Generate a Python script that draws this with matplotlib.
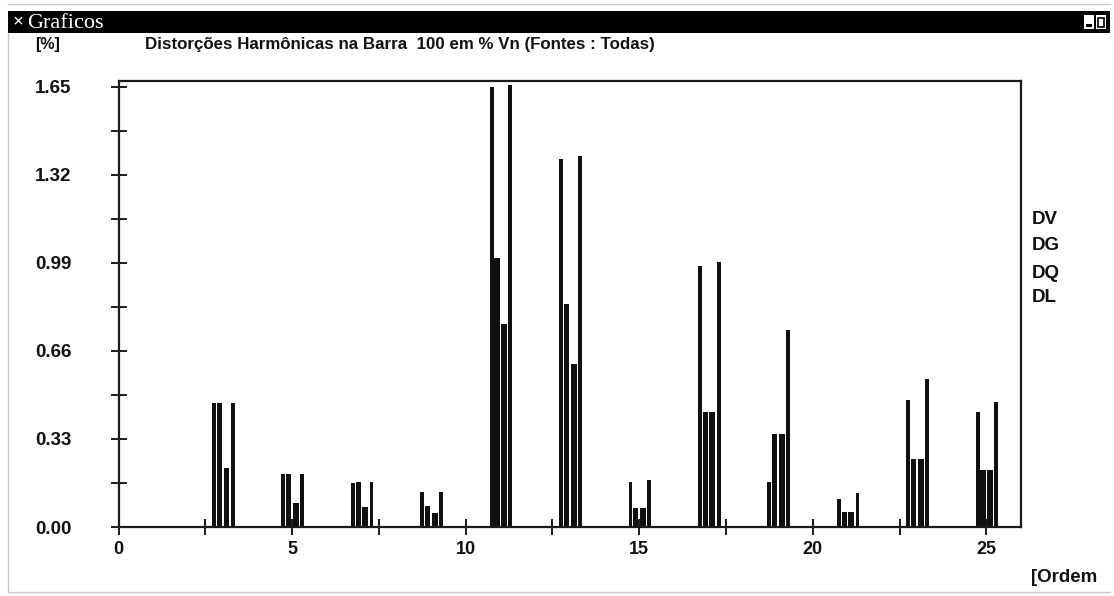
import numpy as np
import matplotlib
matplotlib.use("Agg")
import matplotlib.pyplot as plt
from matplotlib.patches import Rectangle
from matplotlib.lines import Line2D

# ---------------- data ----------------
orders = [3, 5, 7, 9, 11, 13, 15, 17, 19, 21, 23, 25]
series_names = ["DV", "DG", "DQ", "DL"]
DV = [0.465, 0.20, 0.165, 0.13, 1.65, 1.38, 0.17, 0.98, 0.17, 0.105, 0.476, 0.43]
DG = [0.465, 0.20, 0.170, 0.08, 1.01, 0.836, 0.07, 0.43, 0.35, 0.055, 0.255, 0.214]
DQ = [0.220, 0.09, 0.075, 0.053, 0.76, 0.61, 0.07, 0.43, 0.35, 0.055, 0.255, 0.214]
DL = [0.465, 0.20, 0.170, 0.13, 1.657, 1.39, 0.175, 0.995, 0.74, 0.127, 0.555, 0.47]
x_major = [0, 5, 10, 15, 20, 25]
x_minor = [2.5, 7.5, 12.5, 17.5, 22.5]
y_major = [0.00, 0.33, 0.66, 0.99, 1.32, 1.65]
y_minor = [0.165, 0.495, 0.825, 1.155, 1.485]
y_labels = ["0.00", "0.33", "0.66", "0.99", "1.32", "1.65"]
title = "Distorções Harmônicas na Barra  100 em % Vn (Fontes : Todas)"
window_title = "Graficos"

# ---------------- layout ----------------
W, H = 1114, 596
fig = plt.figure(figsize=(W / 100, H / 100), dpi=100)
fig.patch.set_facecolor("white")

def fx(px):
    return px / W

def fy(py):
    return 1 - py / H

BOLD = ["Liberation Sans", "DejaVu Sans"]

ax = fig.add_axes([fx(118.5), fy(527), fx(1021) - fx(118.5), fy(81) - fy(527)])
ax.set_xlim(0, 26)
ax.set_ylim(0, 1.672)

o = np.array(orders, dtype=float)
offsets = [-0.25, -0.095, 0.11, 0.29]
widths = [0.11, 0.15, 0.17, 0.11]
for vals, off, w in zip([DV, DG, DQ, DL], offsets, widths):
    ax.bar(o + off, vals, width=w, color="#101010", linewidth=0, zorder=2)

for s in ax.spines.values():
    s.set_color("#1a1a1a")
    s.set_linewidth(1.6)

ax.set_xticks(x_major)
ax.set_xticks(x_minor, minor=True)
ax.set_xticklabels([str(v) for v in x_major])
ax.set_yticks(y_major)
ax.set_yticks(y_minor, minor=True)
ax.set_yticklabels(y_labels)

ax.tick_params(axis="both", which="both", direction="inout", length=11.5,
               width=1.4, color="#1a1a1a", top=False, right=False)
ax.tick_params(axis="y", which="major", pad=54.5)
ax.tick_params(axis="x", which="major", pad=4.0)
for lab in ax.get_yticklabels():
    lab.set_ha("left")
    lab.set_fontfamily(BOLD)
    lab.set_fontweight("bold")
    lab.set_fontsize(13.5)
    lab.set_color("#111111")
for lab in ax.get_xticklabels():
    lab.set_fontfamily(BOLD)
    lab.set_fontweight("bold")
    lab.set_fontsize(13)
    lab.set_color("#111111")

# legend labels on the right
leg_y = [219, 246, 273, 298]
for name, yy in zip(series_names, leg_y):
    fig.text(fx(1032), fy(yy), name, ha="left", va="center",
             fontsize=13.5, fontweight="bold", family=BOLD, color="#111111")

# axis labels / title
fig.text(fx(35), fy(45), "[%]", ha="left", va="center", fontsize=11.5,
         fontweight="bold", family=BOLD, color="#111111")
fig.text(fx(145), fy(45), title, ha="left", va="center", fontsize=12.2,
         fontweight="bold", family=BOLD, color="#111111")
fig.text(fx(1031), fy(577), "[Ordem", ha="left", va="center", fontsize=13.5,
         fontweight="bold", family=BOLD, color="#111111")

# ---------------- window decoration ----------------
fig.add_artist(Rectangle((fx(8), fy(33)), fx(1110) - fx(8), fy(11) - fy(33),
                         transform=fig.transFigure, facecolor="black",
                         edgecolor="none"))
fig.text(fx(13), fy(22), "×", ha="left", va="center", fontsize=14,
         fontweight="bold", color="white",
         family=["Liberation Serif", "DejaVu Serif"])
fig.text(fx(27), fy(24), window_title, ha="left", va="center", fontsize=16,
         color="white", family=["Liberation Serif", "DejaVu Serif"])
# minimize / maximize boxes
fig.add_artist(Rectangle((fx(1084), fy(29)), fx(10), fy(0) - fy(14),
                         transform=fig.transFigure, facecolor="white",
                         edgecolor="none"))
fig.add_artist(Rectangle((fx(1086), fy(27)), fx(6), fy(0) - fy(3),
                         transform=fig.transFigure, facecolor="black",
                         edgecolor="none"))
fig.add_artist(Rectangle((fx(1096), fy(29)), fx(10), fy(0) - fy(14),
                         transform=fig.transFigure, facecolor="white",
                         edgecolor="none"))
fig.add_artist(Rectangle((fx(1098), fy(27)), fx(6), fy(0) - fy(9),
                         transform=fig.transFigure, facecolor="none",
                         edgecolor="black", linewidth=1.2))
# faint outer window border
for (x0, y0, x1, y1) in [(8, 33, 8, 592), (8, 592, 1110, 592),
                         (8, 4, 1110, 4)]:
    fig.add_artist(Line2D([fx(x0), fx(x1)], [fy(y0), fy(y1)],
                          transform=fig.transFigure, color="#c8c8c8",
                          linewidth=1.0))

fig.savefig("out.png", dpi=100, facecolor="white")
